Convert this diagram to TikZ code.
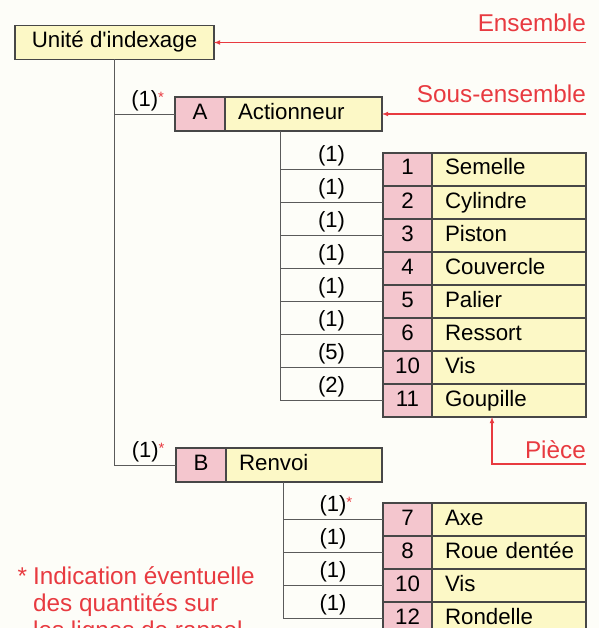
\documentclass[tikz,border=0pt]{standalone}
\usepackage{fontspec}
\setmainfont{Liberation Sans}
\usetikzlibrary{positioning}

\definecolor{jaune}{RGB}{252,248,198}
\definecolor{rose}{RGB}{244,198,206}
\definecolor{rouge}{RGB}{232,58,64}
\definecolor{fond}{RGB}{253,253,248}
\definecolor{gris}{RGB}{90,90,90}

\tikzset{
  cadre/.style={draw=black!72, line width=1.1pt, fill=jaune, inner sep=0pt, outer sep=0pt,
    minimum height=34pt, text height=15.5pt, text depth=4.5pt,
    font=\fontsize{22.3}{25}\selectfont},
  repere/.style={cadre, fill=rose, minimum width=50pt},
  libelle/.style={cadre, align=left, execute at begin node={\hspace*{13pt}}},
  num/.style={repere, minimum width=49pt, minimum height=33pt},
  nom/.style={libelle, text width=154pt, minimum height=33pt},
  ligne/.style={draw=gris, line width=0.9pt},
  qty/.style={above=2pt, inner sep=1pt, text height=15.5pt, text depth=4.5pt,
    font=\fontsize{22}{25}\selectfont},
  appel/.style={draw=rouge, line width=1.1pt},
  rlabel/.style={text=rouge, inner sep=0pt, font=\fontsize{24.3}{27}\selectfont},
}
\newcommand{\etoile}{\rlap{\textcolor{rouge}{\raisebox{4pt}{\fontsize{15}{15}\selectfont *}}}}

\begin{document}
\begin{tikzpicture}[x=1pt, y=-1pt, >=latex]
  \fill[fond] (0,0) rectangle (599,628);
  \useasboundingbox (0,0) rectangle (599,628);
  \clip (0,0) rectangle (599,628);

  % ensemble et sous-ensembles
  \node[cadre, minimum width=199pt] (unite) at (114.5,42.5) {Unité d\textquotesingle indexage};
  \node[repere] (a) at (200,114) {A};
  \node[libelle, text width=157pt, right=0pt of a] (actionneur) {Actionneur};
  \node[repere] (b) at (201,465) {B};
  \node[libelle, text width=156pt, right=0pt of b] (renvoi) {Renvoi};

  % pieces de A
  \node[num] (p1) at (407.5,169.5) {1};
  \node[num, below=0pt of p1] (p2) {2};
  \node[num, below=0pt of p2] (p3) {3};
  \node[num, below=0pt of p3] (p4) {4};
  \node[num, below=0pt of p4] (p5) {5};
  \node[num, below=0pt of p5] (p6) {6};
  \node[num, below=0pt of p6] (p7) {10};
  \node[num, below=0pt of p7] (p8) {11};
  \node[nom, right=0pt of p1] (n1) {Semelle};
  \node[nom, right=0pt of p2] (n2) {Cylindre};
  \node[nom, right=0pt of p3] (n3) {Piston};
  \node[nom, right=0pt of p4] (n4) {Couvercle};
  \node[nom, right=0pt of p5] (n5) {Palier};
  \node[nom, right=0pt of p6] (n6) {Ressort};
  \node[nom, right=0pt of p7] (n7) {Vis};
  \node[nom, right=0pt of p8] (n8) {Goupille};

  % pieces de B
  \node[num] (r1) at (407.5,519.5) {7};
  \node[num, below=0pt of r1] (r2) {8};
  \node[num, below=0pt of r2] (r3) {10};
  \node[num, below=0pt of r3] (r4) {12};
  \node[nom, right=0pt of r1] (m1) {Axe};
  \node[nom, right=0pt of r2] (m2) {Roue dentée};
  \node[nom, right=0pt of r3] (m3) {Vis};
  \node[nom, right=0pt of r4] (m4) {Rondelle};

  % lignes de rappel
  \draw[ligne] (unite.south) |- (a.west) node[qty, pos=0.75] {(1)\etoile};
  \draw[ligne] (unite.south) |- (b.west) node[qty, pos=0.75] {(1)\etoile};

  \coordinate (asub) at ([xshift=-23.5pt]actionneur.south);
  \draw[ligne] (asub) |- (p1.west) node[qty, pos=0.75] {(1)};
  \draw[ligne] (asub) |- (p2.west) node[qty, pos=0.75] {(1)};
  \draw[ligne] (asub) |- (p3.west) node[qty, pos=0.75] {(1)};
  \draw[ligne] (asub) |- (p4.west) node[qty, pos=0.75] {(1)};
  \draw[ligne] (asub) |- (p5.west) node[qty, pos=0.75] {(1)};
  \draw[ligne] (asub) |- (p6.west) node[qty, pos=0.75] {(1)};
  \draw[ligne] (asub) |- (p7.west) node[qty, pos=0.75] {(5)};
  \draw[ligne] (asub) |- (p8.west) node[qty, pos=0.75] {(2)};

  \coordinate (bsub) at ([xshift=-21pt]renvoi.south);
  \draw[ligne] (bsub) |- (r1.west) node[qty, pos=0.75] {(1)\etoile};
  \draw[ligne] (bsub) |- (r2.west) node[qty, pos=0.75] {(1)};
  \draw[ligne] (bsub) |- (r3.west) node[qty, pos=0.75] {(1)};
  \draw[ligne] (bsub) |- (r4.west) node[qty, pos=0.75] {(1)};

  % appels
  \coordinate (ens) at (586,42.5);
  \draw[appel, ->] (ens) -- (unite.east);
  \node[rlabel, anchor=base east] (ensemble) at (586,32) {Ensemble};
  \coordinate (sens) at (586,114);
  \draw[appel, ->] (sens) -- (actionneur.east);
  \node[rlabel, anchor=base east] (sousens) at (586,103) {Sous-ensemble};
  \coordinate (pce) at (586,464);
  \draw[appel, ->] (pce) -| ([xshift=-17pt]n8.south);
  \node[rlabel, anchor=base east] (piece) at (586,458) {Pièce};

  % note
  \node[rlabel, anchor=north west, align=left] (note) at (33,566)
    {\llap{*\hspace{6pt}}Indication éventuelle\\des quantités sur\\les lignes de rappel};
\end{tikzpicture}
\end{document}
